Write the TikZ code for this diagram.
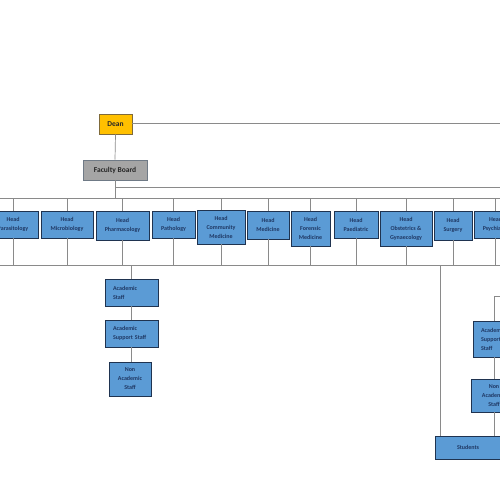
\documentclass[tikz,border=0pt]{standalone}
\usepackage{fontspec}
\setmainfont{Carlito}
\definecolor{boxblue}{HTML}{5B9BD5}
\definecolor{boxline}{HTML}{1F3350}
\definecolor{txtblue}{HTML}{1F3864}
\definecolor{deanfill}{HTML}{FFC000}
\definecolor{deanline}{HTML}{7F6A3A}
\definecolor{fbfill}{HTML}{A5A5A5}
\definecolor{fbline}{HTML}{6F7A86}
\definecolor{conn}{HTML}{8A8A8A}
\begin{document}
\begin{tikzpicture}[x=1pt,y=-1pt,
  box/.style={draw=boxline, line width=0.9pt, fill=boxblue, text=txtblue,
    font=\fontsize{6}{9}\selectfont\bfseries, align=center, inner sep=0pt},
  leftbox/.style={box, align=left, inner xsep=8pt, inner ysep=0pt},
  topbox/.style={draw=#1, line width=0.9pt, text=black!85,
    font=\fontsize{7.5}{9}\selectfont\bfseries, align=center, inner sep=0pt},
  link/.style={draw=conn, line width=0.7pt}]
\useasboundingbox (0,0) rectangle (500,500);
\clip (0,0) rectangle (500,500);

% top nodes
\node[topbox=deanline, fill=deanfill, minimum width=33pt, minimum height=20pt] (dean) at (115.5,124) {Dean};
\node[topbox=fbline, fill=fbfill, minimum width=64pt, minimum height=20pt] (fb) at (115,170) {Faculty Board};

% heads
\node[box, minimum width=50pt, minimum height=27pt] (h1) at (13,224.5) {Head\\Parasitology};
\node[box, minimum width=52pt, minimum height=27pt] (h2) at (67,224.5) {Head\\Microbiology};
\node[box, minimum width=53pt, minimum height=29pt] (h3) at (122.5,225.5) {Head\\Pharmacology};
\node[box, minimum width=43pt, minimum height=27pt] (h4) at (173.5,224.5) {Head\\Pathology};
\node[box, minimum width=48pt, minimum height=34pt] (h5) at (221,227) {Head\\Community\\Medicine};
\node[box, minimum width=42pt, minimum height=28pt] (h6) at (268,225) {Head\\Medicine};
\node[box, minimum width=39pt, minimum height=35pt] (h7) at (310.5,228.5) {Head\\Forensic\\Medicine};
\node[box, minimum width=44pt, minimum height=27pt] (h8) at (356,224.5) {Head\\Paediatric};
\node[box, minimum width=52pt, minimum height=35pt] (h9) at (406,228.5) {Head\\Obstetrics \&\\Gynaecology};
\node[box, minimum width=38pt, minimum height=29pt] (h10) at (453,225.5) {Head\\Surgery};
\node[box, minimum width=43pt, minimum height=27pt] (h11) at (495.5,224.5) {Head\\Psychiatry};

% left staff column
\node[leftbox, text width=37pt, minimum height=27pt] (acad) at (131.5,292.5) {Academic\\Staff};
\node[leftbox, text width=37pt, minimum height=27pt] (supp) at (131.5,333.5) {Academic\\Support Staff};
\node[box, minimum width=42pt, minimum height=34pt] (non) at (130,379) {Non\\Academic\\Staff};

% right column
\node[leftbox, text width=37pt, minimum height=36pt] (rsupp) at (499.5,339) {Academic\\Support\\Staff};
\node[box, minimum width=46pt, minimum height=33pt] (rnon) at (494,395.5) {Non\\Academic\\Staff};
\node[box, minimum width=66pt, minimum height=23pt] (stud) at (468,447.5) {Students};

% coordinates for buses and off-picture ends
\coordinate (deanR) at (520,123);
\coordinate (fbR) at (520,187);
\coordinate (busTL) at (-20,198);
\coordinate (busTR) at (520,198);
\coordinate (busBL) at (-20,265);
\coordinate (busBR) at (520,265);
\coordinate (studL) at (440,265);
\coordinate (rA) at (494,296);
\coordinate (rAR) at (520,296);

% connectors
\draw[link] (dean.south) -- (fb.north);
\draw[link] (dean.east |- deanR) -- (deanR);
\draw[link] (fb.south) -- (fb.south |- busTL);
\draw[link] (fb.south |- fbR) -- (fbR);
\draw[link] (busTL) -- (busTR);
\draw[link] (busBL) -- (busBR);
\foreach \h in {h1,h2,h3,h4,h5,h6,h7,h8,h9,h10,h11}{
  \draw[link] (\h.north |- busTL) -- (\h.north);
  \draw[link] (\h.south) -- (\h.south |- busBL);
}
\draw[link] (acad.north |- busBL) -- (acad.north);
\draw[link] (acad.south) -- (supp.north);
\draw[link] (supp.south) -- (supp.south |- non.north);
\draw[link] (studL) -- (studL |- stud.north);
\draw[link] (rAR) -- (rA) -- (rA |- rsupp.north);
\draw[link] (rA |- rsupp.south) -- (rA |- rnon.north);
\draw[link] (rA |- rnon.south) -- (rA |- stud.north);
\end{tikzpicture}
\end{document}
